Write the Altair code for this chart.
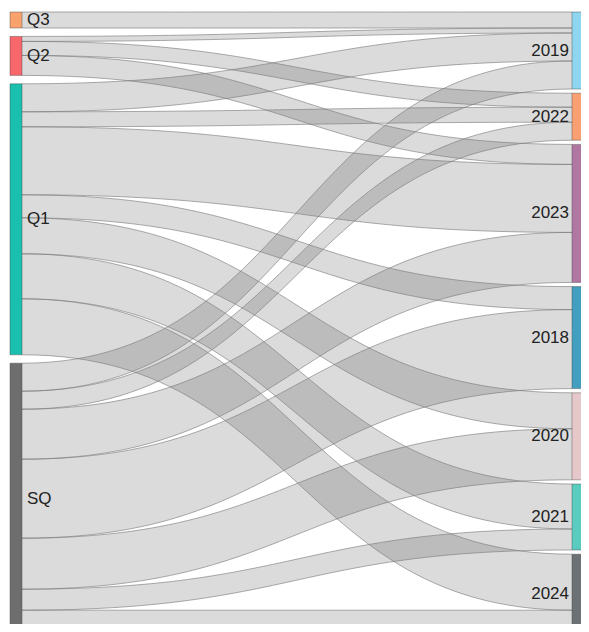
import altair as alt
import pandas as pd
import numpy as np

# ---------------- data ----------------
left_nodes = ["Q3", "Q2", "Q1", "SQ"]
right_nodes = ["2019", "2022", "2023", "2018", "2020", "2021", "2024"]
left_colors = ["#F9A26C", "#F7676B", "#1ABFAD", "#6E6E6E"]
right_colors = ["#8ED6EF", "#F9A073", "#B077A3", "#429FC0", "#E6C7CA", "#5ACBBF", "#6B7175"]

link_source = ["Q3",
               "Q2", "Q2", "Q2",
               "Q1", "Q1", "Q1", "Q1", "Q1", "Q1", "Q1",
               "SQ", "SQ", "SQ", "SQ", "SQ", "SQ", "SQ"]
link_target = ["2019",
               "2019", "2022", "2023",
               "2019", "2022", "2023", "2018", "2020", "2021", "2024",
               "2019", "2022", "2023", "2018", "2020", "2021", "2024"]
link_value = [16,
              5, 14, 20,
              28, 15, 68, 23, 36, 45, 56,
              28, 18, 50, 79, 51, 21, 24]

# ---------------- layout (sankey, computed from the values) ----------------
TOP, BOTTOM = 12.0, 634.2
PAD = 4.2
LX0, LX1 = 10.0, 22.0
RX0, RX1 = 572.0, 584.0

def node_value(name):
    out_v = sum(v for s, v in zip(link_source, link_value) if s == name)
    in_v = sum(v for t, v in zip(link_target, link_value) if t == name)
    return max(out_v, in_v)

cols = [left_nodes, right_nodes]
H = BOTTOM - TOP
ky = min((H - (len(c) - 1) * PAD) / sum(node_value(n) for n in c) for c in cols)

pos = {}
for ci, c in enumerate(cols):
    tot = sum(node_value(n) for n in c) * ky
    gap = (H - tot) / (len(c) - 1)
    y = TOP
    for n in c:
        h = node_value(n) * ky
        x0, x1 = (LX0, LX1) if ci == 0 else (RX0, RX1)
        pos[n] = dict(x0=x0, x1=x1, y0=y, y1=y + h)
        y += h + gap

order = {n: i for i, n in enumerate(left_nodes)}
order.update({n: i for i, n in enumerate(right_nodes)})

links = list(range(len(link_value)))
src_y, tgt_y = {}, {}
for n in left_nodes:
    ls = sorted([i for i in links if link_source[i] == n], key=lambda i: order[link_target[i]])
    y = pos[n]["y0"]
    for i in ls:
        src_y[i] = y
        y += link_value[i] * ky
for n in right_nodes:
    ls = sorted([i for i in links if link_target[i] == n], key=lambda i: order[link_source[i]])
    y = pos[n]["y0"]
    for i in ls:
        tgt_y[i] = y
        y += link_value[i] * ky

ts = np.linspace(0, 1, 60)
area_rows, edge_rows = [], []
for i in links:
    x0 = pos[link_source[i]]["x1"]
    x1 = pos[link_target[i]]["x0"]
    w = link_value[i] * ky
    ya, yb = src_y[i], tgt_y[i]
    for t in ts:
        x = x0 + (x1 - x0) * (1.5 * t - 1.5 * t * t + t ** 3)
        s = 3 * t * t - 2 * t ** 3
        ytop = ya + (yb - ya) * s
        area_rows.append(dict(link=i, x=x, y=ytop, y2=ytop + w))
        edge_rows.append(dict(edge=f"{i}a", x=x, y=ytop))
        edge_rows.append(dict(edge=f"{i}b", x=x, y=ytop + w))

area_df = pd.DataFrame(area_rows)
edge_df = pd.DataFrame(edge_rows)

node_rows = []
for names, colors, side in [(left_nodes, left_colors, "L"), (right_nodes, right_colors, "R")]:
    for n, c in zip(names, colors):
        p = pos[n]
        node_rows.append(dict(name=n, color=c, side=side, x0=p["x0"], x1=p["x1"],
                              y0=p["y0"], y1=p["y1"], ym=(p["y0"] + p["y1"]) / 2,
                              lx=p["x1"] + 5 if side == "L" else p["x0"] - 3))
node_df = pd.DataFrame(node_rows)

# ---------------- chart ----------------
W, HH = 573, 616
xs = alt.Scale(domain=[8, 8 + W], nice=False, zero=False)
ys = alt.Scale(domain=[8, 8 + HH], nice=False, zero=False, reverse=True)

areas = alt.Chart(area_df).mark_area(color="#000000", fillOpacity=0.14, clip=True).encode(
    x=alt.X("x:Q", scale=xs, axis=None),
    y=alt.Y("y:Q", scale=ys, axis=None),
    y2="y2:Q",
    detail="link:N",
)

edges = alt.Chart(edge_df).mark_line(color="#7a7a7a", strokeWidth=0.9, opacity=0.7, clip=True).encode(
    x=alt.X("x:Q", scale=xs, axis=None),
    y=alt.Y("y:Q", scale=ys, axis=None),
    detail="edge:N",
)

nodes = alt.Chart(node_df).mark_rect(stroke="#444444", strokeWidth=0.6, strokeOpacity=0.7, clip=True).encode(
    x=alt.X("x0:Q", scale=xs, axis=None),
    x2="x1:Q",
    y=alt.Y("y0:Q", scale=ys, axis=None),
    y2="y1:Q",
    color=alt.Color("color:N", scale=None, legend=None),
)

lab_l = alt.Chart(node_df[node_df.side == "L"]).mark_text(
    align="left", baseline="middle", fontSize=17, font="Arial", color="#222222"
).encode(
    x=alt.X("lx:Q", scale=xs, axis=None),
    y=alt.Y("ym:Q", scale=ys, axis=None),
    text="name:N",
)
lab_r = alt.Chart(node_df[node_df.side == "R"]).mark_text(
    align="right", baseline="middle", fontSize=17, font="Arial", color="#222222"
).encode(
    x=alt.X("lx:Q", scale=xs, axis=None),
    y=alt.Y("ym:Q", scale=ys, axis=None),
    text="name:N",
)

chart = alt.layer(areas, edges, nodes, lab_l, lab_r).properties(
    width=W, height=HH, padding=0, autosize=alt.AutoSizeParams(type="none")
).configure_view(stroke=None)

chart.save("out.html", embed_options={"renderer": "svg", "actions": False})
